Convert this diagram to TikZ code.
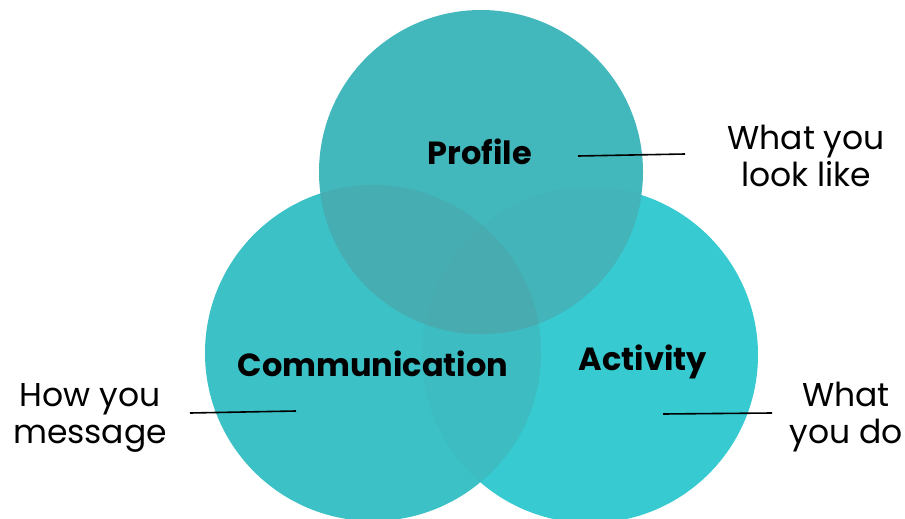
\documentclass[tikz,border=0pt]{standalone}
\usepackage{fontspec}
\setmainfont{Poppins}
\usetikzlibrary{positioning}
\definecolor{actcol}{HTML}{37CAD0}
\definecolor{comcol}{HTML}{3CC1C6}
\definecolor{procol}{HTML}{42B7BC}
\definecolor{accol}{HTML}{3DBCC1}
\definecolor{pacol}{HTML}{43B4B9}
\definecolor{pccol}{HTML}{46AEB3}
\definecolor{allcol}{HTML}{48ABB0}
\tikzset{
	topic/.style={inner sep=0pt, font=\fontsize{32}{36}\selectfont\bfseries},
	% side notes outside the circles
	note/.style={inner sep=0pt, align=center, font=\fontsize{33}{37}\selectfont},
	lead/.style={draw, line width=1.6pt, black},
}

\begin{document}
\begin{tikzpicture}[x=1pt, y=-1pt]
	\useasboundingbox (0,0) rectangle (905,519);
	\clip (0,0) rectangle (905,519);

	\fill[actcol] (590,355) circle (168pt);
	\fill[comcol] (373,353) circle (168pt);
	\fill[procol] (481,172) circle (162pt);
	\begin{scope}
		\clip (590,355) circle (168pt);
		\fill[accol] (373,353) circle (168pt);
		\fill[pacol] (481,172) circle (162pt);
	\end{scope}
	\begin{scope}
		\clip (373,353) circle (168pt);
		\fill[pccol] (481,172) circle (162pt);
		\clip (590,355) circle (168pt);
		\fill[allcol] (481,172) circle (162pt);
	\end{scope}

	\node (profile) [topic] at (480,152) {Profile};
	\node (comm) [topic] at (373,364) {Communication};
	\node (act) [topic] at (643,362) {Activity};

	\node (look) [note] at (806,156) {What you\\look like};
	\node (msg) [note] at (90,418) {How you\\message};
	\node (do) [note] at (846,417) {What\\you do};

	\coordinate (p1) at (578,156);
	\coordinate (p2) at (685,154);
	\coordinate (m1) at (190,413);
	\coordinate (m2) at (296,411);
	\coordinate (d1) at (663,414);
	\coordinate (d2) at (772,413);

	\draw[lead] (p1) -- (p2);
	\draw[lead] (m1) -- (m2);
	\draw[lead] (d1) -- (d2);
\end{tikzpicture}
\end{document}
